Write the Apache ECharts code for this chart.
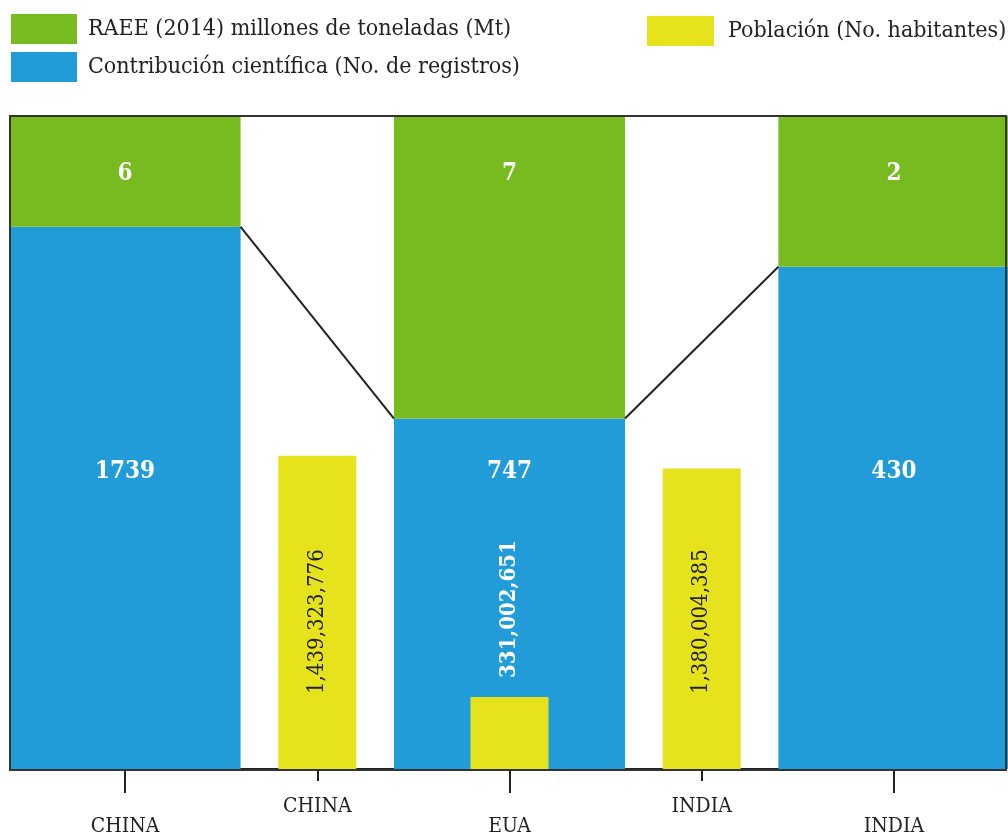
<!DOCTYPE html>
<html>
<head>
<meta charset="utf-8">
<script src="https://cdn.jsdelivr.net/npm/echarts@6/dist/echarts.min.js"></script>
<style>
  html, body { margin: 0; padding: 0; background: #fff; }
  #main { width: 1008px; height: 837px; }
</style>
</head>
<body>
<div id="main"></div>
<script>
// categorías del eje X
const categories = ["CHINA", "CHINA", "EUA", "INDIA", "INDIA"];
// barras grandes (índices 0, 2, 4): altura relativa (0-100)
const raeeShare = [16.97, "-", 46.33, "-", 23.09];
const contribShare = [83.03, "-", 53.67, "-", 76.91];
// etiquetas mostradas
const raeeLabels = ["6", "", "7", "", "2"];
const contribLabels = ["1739", "", "747", "", "430"];
// población (índices 1, 2, 3)
const population = ["-", 1439323776, 331002651, 1380004385, "-"];

const serieRaee = "RAEE (2014) millones de toneladas (Mt)";
const serieContrib = "Contribución científica (No. de registros)";
const seriePob = "Población (No. habitantes)";

const font = "'DejaVu Serif Condensed', 'Liberation Serif', serif";
const bigBarWidth = 231;

// líneas que unen el límite verde/azul entre barras grandes
const bigIdx = [0, 2, 4];
const connectors = [];
for (let k = 0; k < bigIdx.length - 1; k++) {
  const a = bigIdx[k], b = bigIdx[k + 1];
  connectors.push([a, contribShare[a], b, contribShare[b]]);
}

const myChart = echarts.init(document.getElementById("main"));

const option = {
  backgroundColor: "#fff",
  animation: false,
  textStyle: { fontFamily: font },
  grid: { left: 29, right: 18, top: 116, bottom: 67 },
  legend: [
    {
      left: 6, top: 9, orient: "vertical",
      icon: "rect", itemWidth: 66, itemHeight: 30, itemGap: 8,
      textStyle: { fontFamily: font, fontSize: 23, color: "#222", padding: [4, 0, 0, 6] },
      data: [serieRaee, serieContrib]
    },
    {
      left: 642, top: 11,
      icon: "rect", itemWidth: 67, itemHeight: 30,
      textStyle: { fontFamily: font, fontSize: 23, color: "#222", padding: [4, 0, 0, 9] },
      data: [seriePob]
    }
  ],
  xAxis: [
    {
      type: "category",
      data: categories,
      position: "bottom",
      axisLine: { show: true, lineStyle: { color: "#222", width: 2 } },
      axisTick: { show: true, alignWithLabel: true, length: 24, interval: (i) => i % 2 === 0, lineStyle: { color: "#222", width: 2 } },
      axisLabel: { interval: (i) => i % 2 === 0, margin: 47, fontSize: 21, color: "#222", fontFamily: font }
    },
    {
      type: "category",
      data: categories,
      position: "bottom",
      axisLine: { show: false },
      axisTick: { show: true, alignWithLabel: true, length: 12, interval: (i) => i % 2 === 1, lineStyle: { color: "#222", width: 2 } },
      axisLabel: { interval: (i) => i % 2 === 1, margin: 27, fontSize: 21, color: "#222", fontFamily: font }
    }
  ],
  yAxis: [
    { type: "value", min: 0, max: 100, show: false },
    { type: "value", min: 0, max: 3000000000, show: false }
  ],
  series: [
    {
      name: serieContrib,
      type: "bar",
      stack: "big",
      clip: false,
      xAxisIndex: 0, yAxisIndex: 0,
      barWidth: bigBarWidth,
      itemStyle: { color: "#219cd8" },
      label: {
        show: true, position: "insideBottom", distance: 285,
        color: "#fff", fontWeight: "bold", fontSize: 24, fontFamily: font,
        formatter: (p) => contribLabels[p.dataIndex]
      },
      data: contribShare
    },
    {
      name: serieRaee,
      type: "bar",
      stack: "big",
      clip: false,
      xAxisIndex: 0, yAxisIndex: 0,
      barWidth: bigBarWidth,
      itemStyle: { color: "#78bb20" },
      label: {
        show: true, position: "insideTop", distance: 46,
        color: "#fff", fontWeight: "bold", fontSize: 24, fontFamily: font,
        formatter: (p) => raeeLabels[p.dataIndex]
      },
      data: raeeShare
    },
    {
      name: seriePob,
      type: "bar",
      xAxisIndex: 1, yAxisIndex: 1,
      barWidth: 78,
      itemStyle: { color: "#e6e31d" },
      z: 3,
      label: {
        show: true, position: "insideBottom", distance: 75,
        rotate: 90, align: "left", verticalAlign: "middle",
        color: "#222", fontSize: 22, fontFamily: font,
        formatter: (p) => p.value.toLocaleString("en-US")
      },
      data: population.map((v, i) => i === 2 ? {
        value: v,
        label: { position: "top", distance: 19, color: "#fff", fontWeight: "bold" }
      } : v)
    },
    {
      type: "custom",
      xAxisIndex: 0, yAxisIndex: 0,
      z: 4,
      silent: true,
      clip: false,
      encode: { x: [0, 2], y: [1, 3] },
      renderItem: (params, api) => {
        const p1 = api.coord([api.value(0), api.value(1)]);
        const p2 = api.coord([api.value(2), api.value(3)]);
        const half = bigBarWidth / 2;
        return {
          type: "line",
          shape: { x1: p1[0] + half, y1: p1[1], x2: p2[0] - half, y2: p2[1] },
          style: { stroke: "#222", lineWidth: 2 }
        };
      },
      data: connectors
    }
  ],
  graphic: [
    {
      type: "rect", z: 100, silent: true,
      shape: { x: 10, y: 116, width: 996, height: 654 },
      style: { fill: null, stroke: "#333", lineWidth: 2 }
    }
  ]
};

myChart.setOption(option);
</script>
</body>
</html>
